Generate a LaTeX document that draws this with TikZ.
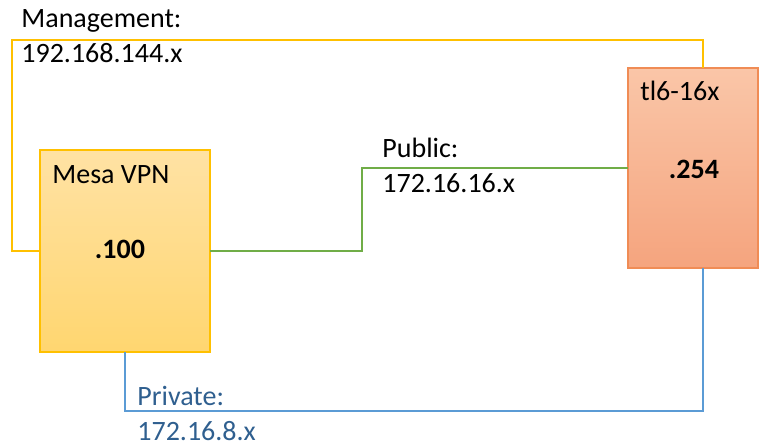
\documentclass[tikz,border=0pt]{standalone}
\usepackage{fontspec}
\setmainfont{Carlito}
\usetikzlibrary{%
    calc,
    positioning
}
\definecolor{mgmtgold}{HTML}{FFC000}
\definecolor{pubgreen}{HTML}{70AD47}
\definecolor{privblue}{HTML}{5B9BD5}
\definecolor{privtext}{HTML}{2F5F8F}
\definecolor{mesatop}{HTML}{FFE2A4}
\definecolor{mesabot}{HTML}{FFD670}
\definecolor{tltop}{HTML}{FAC6A8}
\definecolor{tlbot}{HTML}{F5A47E}
\definecolor{tledge}{HTML}{F08C55}
\tikzset{
    hostbox/.style = {draw, line width=.6pt, inner sep=0pt, outer sep=0pt},
    netline/.style = {line width=1pt},
    plain/.style   = {anchor=base west, inner sep=0pt, font=\fontsize{14}{17}\selectfont}
}

\begin{document}
\begin{tikzpicture}[x=.5pt, y=-.5pt]
    \useasboundingbox (0,0) rectangle (764,445);

    % hosts
    \node[hostbox, draw=mgmtgold, top color=mesatop, bottom color=mesabot,
          minimum width=85pt, minimum height=101pt] (mesa) at (125,251) {};
    \node[hostbox, draw=tledge, top color=tltop, bottom color=tlbot,
          minimum width=65pt, minimum height=100pt] (tl) at (693,168) {};

    % host texts
    \node[plain] (mesaname) at (52,183) {Mesa VPN};
    \node[plain, anchor=base] (mesaip) at (120,258) {\textbf{.100}};
    \node[plain] (tlname) at (640,100) {tl6-16x};
    \node[plain, anchor=base] (tlip) at (694,178) {\textbf{.254}};

    % network labels
    \foreach \Name/\X/\Y/\Text/\Col in {%
        mgmtname/21/27/Management:/black,
        mgmtnet/21/62/192.168.144.x/black,
        pubname/382/157/Public:/black,
        pubnet/382/192/172.16.16.x/black,
        privname/137/405/Private:/privtext,
        privnet/137/440/172.16.8.x/privtext%
        }
        \node[plain, text=\Col] (\Name) at (\X,\Y) {\Text};

    % bends
    \coordinate (mgmtcorner) at (12,40);
    \coordinate (tlin) at ([xshift=5pt]tl.north);
    \coordinate (tlout) at ([xshift=5pt]tl.south);
    \coordinate (pubbend) at (362,168);
    \coordinate (privcorner) at (tlout |- 0,411);

    % links
    \draw[netline, mgmtgold] (mesa.west) -| (mgmtcorner) -| (tlin);
    \draw[netline, pubgreen] (mesa.east) -| (pubbend) -- (tl.west);
    \draw[netline, privblue] (mesa.south) |- (privcorner) -- (tlout);
\end{tikzpicture}
\end{document}
